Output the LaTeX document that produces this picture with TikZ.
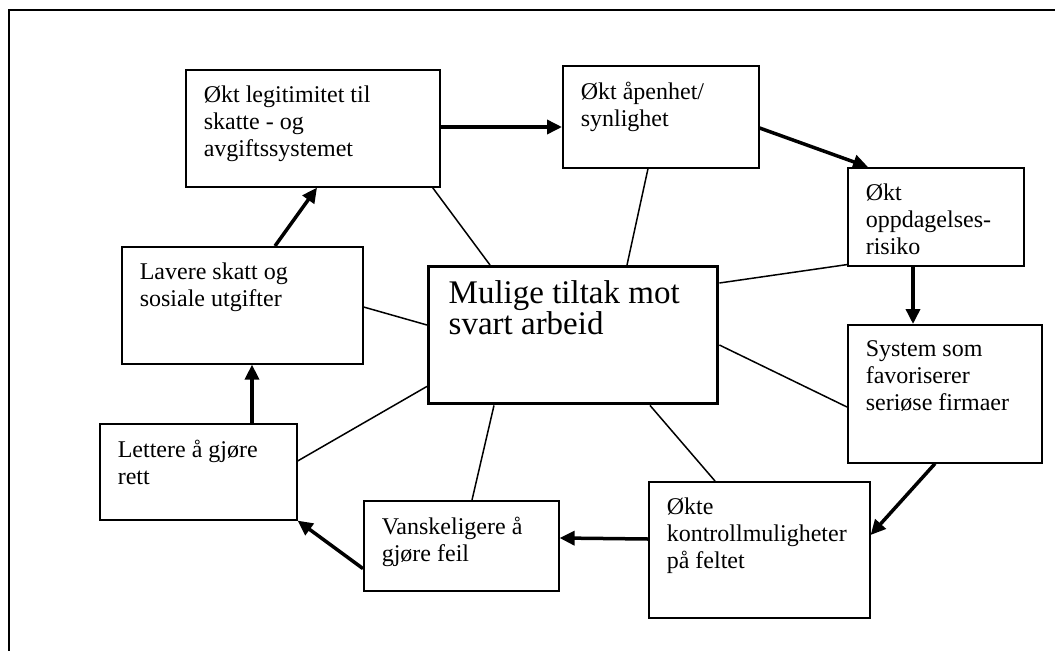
\documentclass[tikz,border=0pt]{standalone}
\usepackage{fontspec}
\setmainfont{Liberation Serif}
\usetikzlibrary{arrows.meta}
\newcommand{\boxtext}[3]{\parbox[c][#2][t]{#1}{\raggedright #3}}
\tikzset{
  box/.style={draw, line width=1.6pt, anchor=north west, inner xsep=18pt, inner ysep=16pt,
    font=\fontsize{24}{27}\selectfont},
  mainbox/.style={box, line width=3.4pt, inner xsep=20pt, inner ysep=14pt, font=\fontsize{33}{31}\selectfont},
  link/.style={line width=1.5pt},
  flow/.style={line width=3.5pt, -{Triangle[length=15pt,width=14pt]}}
}

\begin{document}
\begin{tikzpicture}[x=1pt,y=-1pt]
\useasboundingbox (0,0) rectangle (1055,651);
\draw[line width=1.5pt] (1055,10) -- (9,10) -- (9,651);
\path (427,265) node[mainbox] (tiltak) {\boxtext{249pt}{109pt}{Mulige tiltak mot\\ svart arbeid}}
      (185,69)  node[box] (legit) {\boxtext{218pt}{85pt}{Økt legitimitet til\\ skatte - og\\ avgiftssystemet}}
      (562,65)  node[box] (apen) {\boxtext{160pt}{70pt}{Økt åpenhet/\\ synlighet}}
      (847,167) node[box] (risiko) {\boxtext{140pt}{66pt}{Økt\\ oppdagelses-\\ risiko}}
      (847,324) node[box] (seriose) {\boxtext{158pt}{106pt}{System som\\ favoriserer\\ seriøse firmaer}}
      (648,481) node[box] (kontroll) {\boxtext{185pt}{104pt}{Økte\\ kontrollmuligheter\\ på feltet}}
      (363,500) node[box] (feil) {\boxtext{159pt}{58pt}{Vanskeligere å\\ gjøre feil}}
      (99,423)  node[box] (rett) {\boxtext{161pt}{64pt}{Lettere å gjøre\\ rett}}
      (121,246) node[box] (skatt) {\boxtext{205pt}{85pt}{Lavere skatt og\\ sosiale utgifter}}
      ;
\draw[link] ([xshift=-8pt]legit.south east) -- ([xshift=63pt]tiltak.north west);
\draw[link] ([xshift=86pt]apen.south west) -- ([xshift=200pt]tiltak.north west);
\draw[link] ([yshift=2pt]risiko.south west) -- ([yshift=-18pt]tiltak.north east);
\draw[link] ([yshift=-83pt]seriose.north west) -- ([yshift=-80pt]tiltak.north east);
\draw[link] ([xshift=67pt]kontroll.north west) -- ([xshift=223pt]tiltak.south west);
\draw[link] ([xshift=109pt]feil.north west) -- ([xshift=67pt]tiltak.south west);
\draw[link] ([yshift=-38pt]rett.north east) -- ([yshift=19pt]tiltak.south west);
\draw[link] ([yshift=-61pt]skatt.north east) -- ([yshift=-60pt]tiltak.north west);
\draw[flow] ([yshift=-58pt]legit.north east) -- ([yshift=-62pt]apen.north west);
\draw[flow] ([yshift=-63pt]apen.north east) -- ([xshift=21pt]risiko.north west);
\draw[flow] ([xshift=66pt]risiko.south west) -- ([xshift=66pt]seriose.north west);
\draw[flow] ([xshift=88pt]seriose.south west) -- ([yshift=-54pt]kontroll.north east);
\draw[flow] ([yshift=-58pt]kontroll.north west) -- ([yshift=-38pt]feil.north east);
\draw[flow] ([yshift=23pt]feil.south west) -- (rett.south east);
\draw[flow] ([xshift=153pt]rett.north west) -- ([xshift=131pt]skatt.south west);
\draw[flow] ([xshift=154pt]skatt.north west) -- ([xshift=132pt]legit.south west);
\end{tikzpicture}
\end{document}
